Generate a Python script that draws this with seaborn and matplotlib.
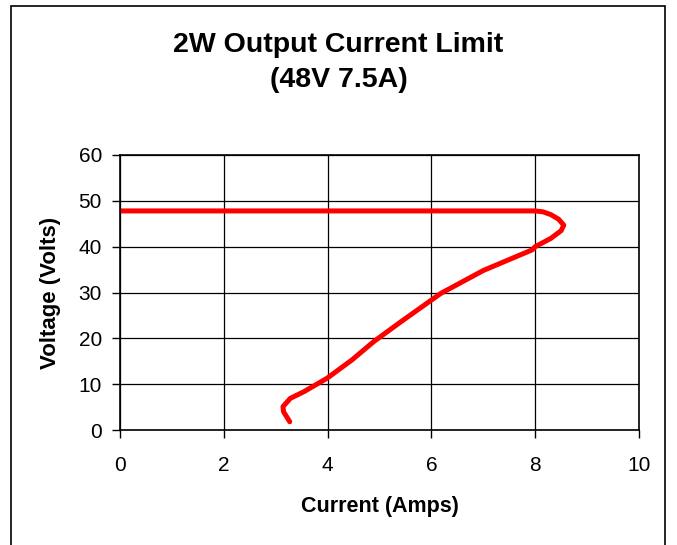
import pandas as pd
import seaborn as sns
import matplotlib.pyplot as plt
from matplotlib.patches import Rectangle

# current (A) vs output voltage (V)
current = [0.0, 2.0, 4.0, 6.0, 7.5, 8.0, 8.15, 8.3, 8.45, 8.55, 8.5, 8.3, 8.0,
           7.94, 7.0, 6.18, 5.41, 4.89, 4.47, 3.99, 3.55, 3.28, 3.14, 3.15, 3.27]
voltage = [47.8, 47.8, 47.8, 47.8, 47.8, 47.8, 47.6, 47.0, 46.0, 44.7, 43.5, 41.8, 40.0,
           39.3, 34.8, 29.8, 23.6, 19.3, 15.3, 11.3, 8.4, 6.9, 5.1, 4.0, 1.8]

title = "2W Output Current Limit\n(48V 7.5A)"
xlabel = "Current (Amps)"
ylabel = "Voltage (Volts)"

df = pd.DataFrame({"current": current, "voltage": voltage})

sns.set_style("white")
plt.rcParams['font.family'] = ['Liberation Sans', 'DejaVu Sans']
plt.rcParams.update({"text.color": "black", "axes.labelcolor": "black",
                     "xtick.color": "black", "ytick.color": "black"})

fig = plt.figure(figsize=(6.77, 5.45), dpi=100)
ax = fig.add_axes([0.1773, 0.211, 0.9439 - 0.1773, 0.7156 - 0.211])

sns.lineplot(data=df, x="current", y="voltage", sort=False, color="#ff0000",
             linewidth=3.6, ax=ax, estimator=None)

ax.set_xlim(0, 10)
ax.set_ylim(0, 60)
ax.set_xticks(range(0, 11, 2))
ax.set_yticks(range(0, 61, 10))
ax.grid(True, color="black", linewidth=0.9)
ax.set_axisbelow(True)
for s in ax.spines.values():
    s.set_color("black")
    s.set_linewidth(1.2)
ax.tick_params(axis="both", direction="out", length=6, width=1, color="black",
               labelsize=15, left=True, bottom=True)
ax.tick_params(axis="x", pad=13)
ax.tick_params(axis="y", pad=7)
ax.set_xlabel(xlabel, fontsize=15.5, fontweight="bold", labelpad=15)
ax.set_ylabel(ylabel, fontsize=16, fontweight="bold", labelpad=13)

fig.text(0.5, 1 - 32 / 545, title, ha="center", va="top", fontsize=20.5,
         fontweight="bold", linespacing=1.45)

fig.patches.append(Rectangle((11 / 677, -0.01), (665 - 11) / 677, 1 - 6 / 545 + 0.01,
                             transform=fig.transFigure, fill=False,
                             edgecolor="black", linewidth=1.2))

fig.savefig("out.png", dpi=100)
